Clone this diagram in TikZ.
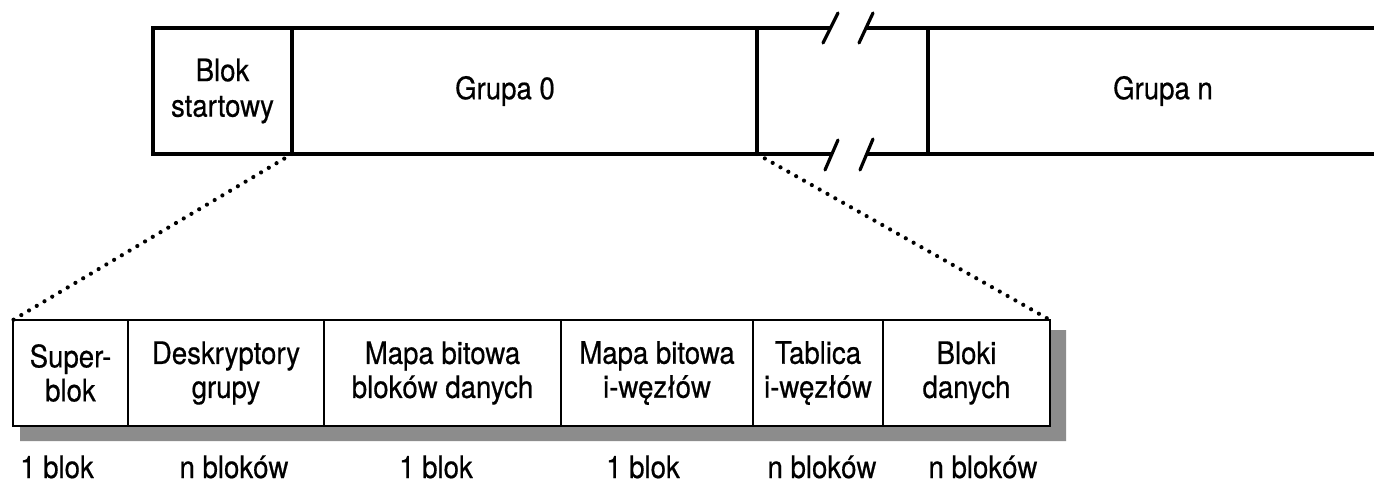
\documentclass[tikz,border=0pt]{standalone}
\usepackage{fontspec}
\setmainfont{TeX Gyre Heros}[FakeStretch=0.89, FakeBold=0.5]
\begin{document}
\begin{tikzpicture}[x=1pt,y=-1pt,
  topcell/.style={draw=black, line width=3.2pt, inner sep=0pt, outer sep=0pt,
    minimum height=126pt, align=center, font=\fontsize{31}{35.5}\selectfont},
  botcell/.style={draw=black, line width=2.4pt, inner sep=0pt, outer sep=0pt,
    minimum height=106pt, align=center, font=\fontsize{31}{34}\selectfont},
  txt/.style={inner sep=0pt, align=center, font=\fontsize{31}{35}\selectfont},
  countlbl/.style={inner sep=0pt, anchor=base, font=\fontsize{31}{35}\selectfont},
  topline/.style={line width=3.2pt, draw=black},
  breakmark/.style={line width=3.2pt, draw=black, line cap=round},
  zoomline/.style={line width=4.2pt, draw=black, line cap=round, dash pattern=on 0pt off 9pt},
  shadowfill/.style={fill=black!45, draw=none}
]
\useasboundingbox (0,0) rectangle (1374,484);
\fill[white] (0,0) rectangle (1374,484);

% top row
\node[topcell, minimum width=139pt] (bs) at (222.5,91) {Blok\\startowy};
\node[topcell, minimum width=465pt] (g0) at (524.5,91) {};
\node[txt] (g0t) at (505,91) {Grupa 0};

\coordinate (gapTL) at (831,28);
\coordinate (gapTR) at (866,28);
\coordinate (gapBL) at (832,154);
\coordinate (gapBR) at (866,154);
\coordinate (gnTL) at (928,28);
\coordinate (gnBL) at (928,154);
\coordinate (gnTR) at (1380,28);
\coordinate (gnBR) at (1380,154);

\draw[topline] (g0.north east) -- (gapTL);
\draw[topline] (g0.south east) -- (gapBL);
\draw[topline] (gapTR) -- (gnTR);
\draw[topline] (gapBR) -- (gnBR);
\draw[topline] (gnTL) -- (gnBL);

\coordinate (s1a) at (823,43); \coordinate (s1b) at (838,13);
\coordinate (s2a) at (859,43); \coordinate (s2b) at (873,13);
\coordinate (s3a) at (825,170); \coordinate (s3b) at (838,140);
\coordinate (s4a) at (860,170); \coordinate (s4b) at (873,139);
\draw[breakmark] (s1a) -- (s1b);
\draw[breakmark] (s2a) -- (s2b);
\draw[breakmark] (s3a) -- (s3b);
\draw[breakmark] (s4a) -- (s4b);

\node[txt] (gnt) at (1163,91) {Grupa n};

% shadow of bottom row
\fill[shadowfill] (20,426) -- (1050,426) -- (1050,330) -- (1066,330) -- (1066,441) -- (20,441) -- cycle;

% bottom row
\node[botcell, minimum width=115pt, fill=white] (sup) at (70.5,373) {Super-\\blok};
\node[botcell, minimum width=196pt, fill=white] (desk) at (226,373) {Deskryptory\\grupy};
\node[botcell, minimum width=237pt, fill=white] (mbd) at (442.5,373) {Mapa bitowa\\bloków danych};
\node[botcell, minimum width=192pt, fill=white] (mbi) at (657,373) {Mapa bitowa\\i-węzłów};
\node[botcell, minimum width=130pt, fill=white] (tab) at (818,373) {Tablica\\i-węzłów};
\node[botcell, minimum width=167pt, fill=white] (dan) at (966.5,373) {Bloki\\danych};

% zoom connectors
\draw[zoomline] (bs.south east) -- (sup.north west);
\draw[zoomline] (g0.south east) -- (dan.north east);

% counts
\node[countlbl] (c1) at (57,478) {1 blok};
\node[countlbl] (c2) at (234,478) {n bloków};
\node[countlbl] (c3) at (436,478) {1 blok};
\node[countlbl] (c4) at (643,478) {1 blok};
\node[countlbl] (c5) at (822,478) {n bloków};
\node[countlbl] (c6) at (983,478) {n bloków};
\end{tikzpicture}
\end{document}
